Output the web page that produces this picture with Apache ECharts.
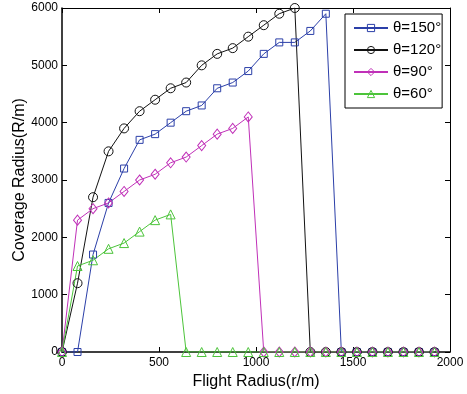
<!DOCTYPE html>
<html>
<head>
<meta charset="utf-8">
<script src="https://cdn.jsdelivr.net/npm/echarts@6/dist/echarts.min.js"></script>
<style>
  html, body { margin: 0; padding: 0; background: #fff; }
  #chart { width: 467px; height: 394px; }
</style>
</head>
<body>
<div id="chart"></div>
<script>
// flight radius (x) values
const radius = [0, 80, 160, 240, 320, 400, 480, 560, 640, 720, 800, 880, 960,
  1040, 1120, 1200, 1280, 1360, 1440, 1520, 1600, 1680, 1760, 1840, 1920];
// coverage radius per angle
const theta150 = [0, 0, 1700, 2600, 3200, 3700, 3800, 4000, 4200, 4300, 4600, 4700, 4900,
  5200, 5400, 5400, 5600, 5900, 0, 0, 0, 0, 0, 0, 0];
const theta120 = [0, 1200, 2700, 3500, 3900, 4200, 4400, 4600, 4700, 5000, 5200, 5300, 5500,
  5700, 5900, 6000, 0, 0, 0, 0, 0, 0, 0, 0, 0];
const theta90 = [0, 2300, 2500, 2600, 2800, 3000, 3100, 3300, 3400, 3600, 3800, 3900, 4100,
  0, 0, 0, 0, 0, 0, 0, 0, 0, 0, 0, 0];
const theta60 = [0, 1500, 1600, 1800, 1900, 2100, 2300, 2400, 0, 0, 0, 0, 0,
  0, 0, 0, 0, 0, 0, 0, 0, 0, 0, 0, 0];
const seriesNames = ['θ=150°', 'θ=120°', 'θ=90°', 'θ=60°'];
const seriesColors = ['#2b3fa8', '#111111', '#c030b8', '#4cc43a'];
const xTicks = { min: 0, max: 2000, step: 500 };
const yTicks = { min: 0, max: 6000, step: 1000 };

const font = 'Liberation Sans, Arial, Helvetica, sans-serif';

const chart = echarts.init(document.getElementById('chart'), null, { renderer: 'canvas' });

const makeSeries = (name, values, color, symbol, size) => ({
  name: name,
  type: 'line',
  data: radius.map((r, i) => [r, values[i]]),
  symbol: symbol,
  symbolSize: size,
  showAllSymbol: true,
  animation: false,
  lineStyle: { color: color, width: 1 },
  itemStyle: { color: 'rgba(0,0,0,0)', borderColor: color, borderWidth: 1 }
});

const axisCommon = {
  type: 'value',
  axisLine: { show: true, onZero: false, lineStyle: { color: '#000', width: 1.5 } },
  axisTick: { show: true, inside: true, length: 5, lineStyle: { color: '#000' } },
  splitLine: { show: false }
};

const option = {
  backgroundColor: '#fff',
  animation: false,
  grid: { left: 62, right: 17, top: 8, bottom: 42, outerBoundsMode: 'none', containLabel: false },
  legend: {
    data: seriesNames.map((n, i) => ({
      name: n,
      itemStyle: { color: 'rgba(0,0,0,0)', borderColor: seriesColors[i], borderWidth: 1 }
    })),
    orient: 'vertical',
    left: 345,
    top: 14,
    padding: [5, 1, 5, 8],
    itemWidth: 34,
    itemHeight: 9,
    itemGap: 4,
    backgroundColor: '#fff',
    borderColor: '#000',
    borderWidth: 1,
    textStyle: { fontFamily: font, fontSize: 15, lineHeight: 18, color: '#000' }
  },
  xAxis: [
    Object.assign({}, axisCommon, {
      min: xTicks.min, max: xTicks.max, interval: xTicks.step,
      position: 'bottom',
      name: 'Flight Radius(r/m)',
      nameLocation: 'middle',
      nameGap: 22,
      nameMoveOverlap: false,
      nameTextStyle: { fontFamily: font, fontSize: 16, color: '#000' },
      axisLabel: { fontFamily: font, fontSize: 12, color: '#000', margin: 5, formatter: v => String(v) }
    }),
    Object.assign({}, axisCommon, {
      min: xTicks.min, max: xTicks.max, interval: xTicks.step,
      position: 'top',
      axisLine: { show: true, onZero: false, lineStyle: { color: '#000', width: 1 } },
      axisLabel: { show: false }
    })
  ],
  yAxis: [
    Object.assign({}, axisCommon, {
      min: yTicks.min, max: yTicks.max, interval: yTicks.step,
      position: 'left',
      name: 'Coverage Radius(R/m)',
      nameLocation: 'middle',
      nameGap: 34,
      nameMoveOverlap: false,
      nameTextStyle: { fontFamily: font, fontSize: 16, color: '#000' },
      axisLabel: { fontFamily: font, fontSize: 12, color: '#000', margin: 4, formatter: v => String(v) }
    }),
    Object.assign({}, axisCommon, {
      min: yTicks.min, max: yTicks.max, interval: yTicks.step,
      position: 'right',
      axisLine: { show: true, onZero: false, lineStyle: { color: '#000', width: 1 } },
      axisLabel: { show: false }
    })
  ],
  series: [
    makeSeries(seriesNames[0], theta150, seriesColors[0], 'rect', 7),
    makeSeries(seriesNames[1], theta120, seriesColors[1], 'circle', 9),
    makeSeries(seriesNames[2], theta90, seriesColors[2], 'diamond', [8, 10]),
    makeSeries(seriesNames[3], theta60, seriesColors[3], 'triangle', 9)
  ]
};

chart.setOption(option);
window.addEventListener('resize', () => chart.resize());
</script>
</body>
</html>
